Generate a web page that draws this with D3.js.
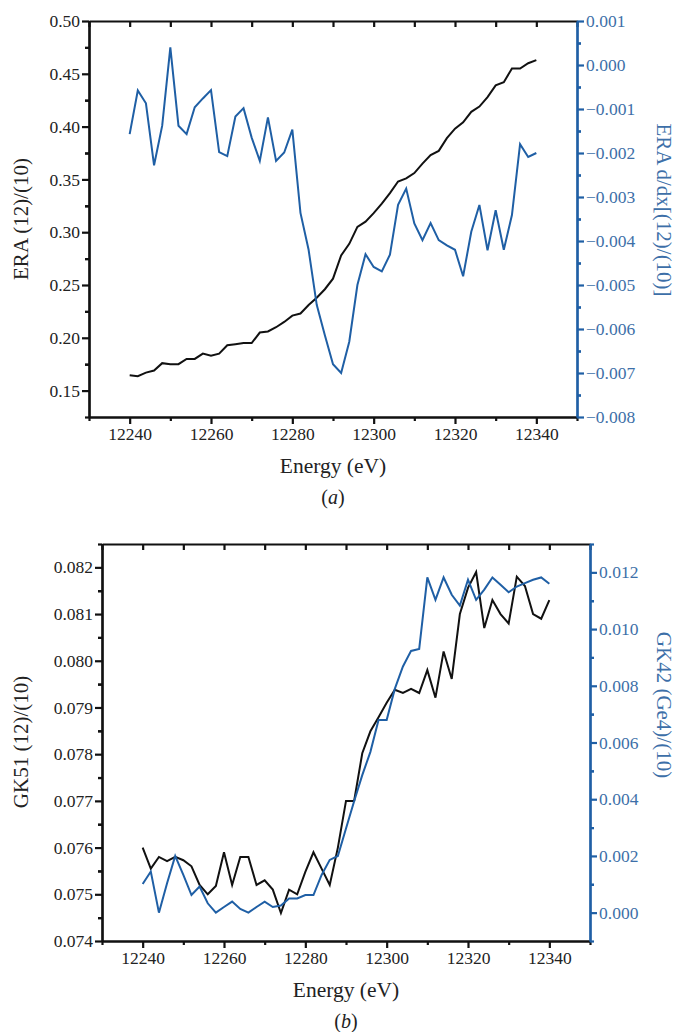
<!DOCTYPE html>
<html>
<head>
<meta charset="utf-8">
<script src="https://d3js.org/d3.v7.min.js"></script>
<style>
  body { margin: 0; background: #fff; }
  svg text { font-family: "Liberation Serif", "Times New Roman", Times, Tinos, "DejaVu Serif", "Noto Serif", serif !important; }
</style>
</head>
<body>
<svg width="681" height="1032"></svg>
<script>
// energies 12240..12340 step 2 eV
var energy = [12240,12242,12244,12246,12248,12250,12252,12254,12256,12258,
              12260,12262,12264,12266,12268,12270,12272,12274,12276,12278,
              12280,12282,12284,12286,12288,12290,12292,12294,12296,12298,
              12300,12302,12304,12306,12308,12310,12312,12314,12316,12318,
              12320,12322,12324,12326,12328,12330,12332,12334,12336,12338,12340];

// panel (a)
var eraRatio = [0.1646,0.1637,0.167,0.169,0.176,0.175,0.175,0.180,0.180,0.185,
                0.183,0.185,0.193,0.194,0.195,0.195,0.205,0.206,0.210,0.215,
                0.221,0.223,0.231,0.238,0.246,0.256,0.278,0.289,0.305,0.310,
                0.318,0.327,0.337,0.348,0.351,0.356,0.365,0.373,0.377,0.389,
                0.398,0.404,0.414,0.419,0.428,0.439,0.442,0.455,0.455,0.460,0.463];
var eraDeriv = [-0.00157,-0.00058,-0.00087,-0.00228,-0.00138,0.00040,-0.00138,-0.00157,-0.00096,-0.00076,
                -0.00057,-0.00198,-0.00207,-0.00117,-0.00098,-0.00165,-0.00218,-0.00119,-0.00218,-0.00199,
                -0.00147,-0.00336,-0.00420,-0.00545,-0.00614,-0.00680,-0.00700,-0.00629,-0.00500,-0.00430,
                -0.00459,-0.00469,-0.00431,-0.00318,-0.00281,-0.00360,-0.00398,-0.00359,-0.00398,-0.00410,
                -0.00420,-0.00480,-0.00379,-0.00318,-0.00421,-0.00330,-0.00420,-0.00341,-0.00180,-0.00209,-0.00200];

// panel (b)
var gk51 = [0.07600,0.07555,0.07580,0.07571,0.07580,0.07573,0.07560,0.07520,0.07500,0.07518,
            0.07590,0.07520,0.07580,0.07580,0.07520,0.07530,0.07510,0.07460,0.07510,0.07500,
            0.07548,0.07590,0.07555,0.07520,0.07600,0.07700,0.07700,0.07802,0.07849,0.07879,
            0.07910,0.07938,0.07931,0.07940,0.07931,0.07980,0.07921,0.08020,0.07961,0.08100,
            0.08156,0.08190,0.08070,0.08130,0.08100,0.08080,0.08180,0.08160,0.08100,0.08090,0.08130];
var gk42 = [0.00101,0.00145,0.00000,0.00104,0.00200,0.00133,0.00062,0.00092,0.00033,0.00000,
            0.00020,0.00039,0.00013,0.00000,0.00020,0.00039,0.00020,0.00025,0.00050,0.00050,
            0.00062,0.00062,0.00133,0.00186,0.00200,0.00297,0.00393,0.00485,0.00567,0.00679,
            0.00679,0.00789,0.00868,0.00923,0.00930,0.01182,0.01103,0.01182,0.01121,0.01083,
            0.01174,0.01103,0.01139,0.01182,0.01156,0.01130,0.01150,0.01162,0.01174,0.01182,0.01160];

var xMajor = [12240,12260,12280,12300,12320,12340];
var xMinor = [12230,12250,12270,12290,12310,12330,12350];
var xTop = [12230,12240,12250,12260,12270,12280,12290,12300,12310,12320,12330,12340,12350];

var aLeftTicks = [0.15,0.20,0.25,0.30,0.35,0.40,0.45,0.50];
var aRightTicks = [0.001,0,-0.001,-0.002,-0.003,-0.004,-0.005,-0.006,-0.007,-0.008];
var bLeftTicks = [0.074,0.075,0.076,0.077,0.078,0.079,0.080,0.081,0.082];
var bRightTicks = [0,0.002,0.004,0.006,0.008,0.010,0.012];

var blue = "#1f5fa5";
var blueText = "#3d6fa8";
var serif = "'Liberation Serif', 'Times New Roman', Times, Tinos, 'DejaVu Serif', 'Noto Serif', serif";

var svg = d3.select("svg");

function minorsOf(ticks, step) {
    var out = [];
    ticks.forEach(function(t) { out.push(t - step / 2); out.push(t + step / 2); });
    return out;
}

function panel(opt) {
    var g = svg.append("g");
    var x = d3.scaleLinear().domain([12230, 12350]).range([opt.left, opt.right]);
    var yL = d3.scaleLinear().domain(opt.leftDomain).range([opt.bottom, opt.top]);
    var yR = d3.scaleLinear().domain(opt.rightDomain).range([opt.bottom, opt.top]);

    // lines
    var lineL = d3.line().x(function(d, i) { return x(energy[i]); }).y(function(d) { return yL(d); });
    var lineR = d3.line().x(function(d, i) { return x(energy[i]); }).y(function(d) { return yR(d); });
    g.append("path").datum(opt.leftData).attr("d", lineL)
        .attr("fill", "none").attr("stroke", "#111").attr("stroke-width", 2);
    g.append("path").datum(opt.rightData).attr("d", lineR)
        .attr("fill", "none").attr("stroke", blue).attr("stroke-width", 2);

    // top frame with inward ticks
    var top = g.append("g").attr("transform", "translate(0," + opt.top + ")")
        .call(d3.axisTop(x).tickValues(xTop).tickSize(-6).tickSizeOuter(0).tickFormat(""));
    // bottom axis
    var bMin = g.append("g").attr("transform", "translate(0," + opt.bottom + ")")
        .call(d3.axisBottom(x).tickValues(xMinor).tickSize(4).tickSizeOuter(0).tickFormat(""));
    var bMaj = g.append("g").attr("transform", "translate(0," + opt.bottom + ")")
        .call(d3.axisBottom(x).tickValues(xMajor).tickSize(7).tickSizeOuter(0).tickFormat(d3.format("d")).tickPadding(4));
    // left axis
    var lMin = g.append("g").attr("transform", "translate(" + opt.left + ",0)")
        .call(d3.axisLeft(yL).tickValues(minorsOf(opt.leftTicks, opt.leftStep).filter(function(v) {
            return v >= opt.leftDomain[0] - 1e-9 && v <= opt.leftDomain[1] + 1e-9; }))
            .tickSize(4).tickSizeOuter(0).tickFormat(""));
    var lMaj = g.append("g").attr("transform", "translate(" + opt.left + ",0)")
        .call(d3.axisLeft(yL).tickValues(opt.leftTicks).tickSize(7).tickSizeOuter(0)
            .tickFormat(d3.format(opt.leftFormat)).tickPadding(2));
    // right axis
    var rMin = g.append("g").attr("transform", "translate(" + opt.right + ",0)")
        .call(d3.axisRight(yR).tickValues(minorsOf(opt.rightTicks, opt.rightStep).filter(function(v) {
            return v >= opt.rightDomain[0] - 1e-9 && v <= opt.rightDomain[1] + 1e-9; }))
            .tickSize(4).tickSizeOuter(0).tickFormat(""));
    var rMaj = g.append("g").attr("transform", "translate(" + opt.right + ",0)")
        .call(d3.axisRight(yR).tickValues(opt.rightTicks).tickSize(7).tickSizeOuter(0)
            .tickFormat(function(d) { return d3.format(".3f")(d).replace("-", "\u2212"); }).tickPadding(2));

    [top, bMin, bMaj, lMin, lMaj].forEach(function(a) {
        a.attr("font-family", serif);
        a.selectAll("path, line").attr("stroke", "#111").attr("stroke-width", 2.2);
        a.selectAll("text").attr("fill", "#222").attr("font-size", 17.5);
    });
    [rMin, rMaj].forEach(function(a) {
        a.attr("font-family", serif);
        a.selectAll("path, line").attr("stroke", blue).attr("stroke-width", 2.2);
        a.selectAll("text").attr("fill", blueText).attr("font-size", 17.5);
    });

    // titles
    g.append("text").attr("x", (opt.left + opt.right) / 2).attr("y", opt.bottom + 56)
        .attr("text-anchor", "middle").attr("font-size", 21.5).attr("fill", "#222")
        .text("Energy (eV)");
    var cap = g.append("text").attr("x", (opt.left + opt.right) / 2).attr("y", opt.bottom + 87)
        .attr("text-anchor", "middle").attr("font-size", 20).attr("fill", "#222");
    cap.append("tspan").text("(");
    cap.append("tspan").attr("font-style", "italic").text(opt.tag);
    cap.append("tspan").text(")");

    g.append("text").attr("transform", "translate(" + opt.leftTitleX + "," + opt.leftTitleY + ") rotate(-90)")
        .attr("text-anchor", "middle").attr("dy", "0.35em").attr("font-size", 21).attr("fill", "#222")
        .text(opt.leftTitle);
    g.append("text").attr("transform", "translate(664," + opt.rightTitleY + ") rotate(90)")
        .attr("text-anchor", "middle").attr("dy", "0.35em").attr("font-size", 21).attr("fill", blueText)
        .text(opt.rightTitle);
}

panel({
    left: 89, right: 577, top: 21, bottom: 417,
    leftDomain: [0.125, 0.5], rightDomain: [-0.008, 0.001],
    leftTicks: aLeftTicks, leftStep: 0.05, leftFormat: ".2f",
    rightTicks: aRightTicks, rightStep: 0.001,
    leftData: eraRatio, rightData: eraDeriv,
    leftTitle: "ERA (12)/(10)", rightTitle: "ERA d/dx[(12)/(10)]",
    leftTitleX: 21, leftTitleY: 219, rightTitleY: 210, tag: "a"
});

panel({
    left: 102, right: 590, top: 544, bottom: 941,
    leftDomain: [0.074, 0.0825], rightDomain: [-0.001, 0.013],
    leftTicks: bLeftTicks, leftStep: 0.001, leftFormat: ".3f",
    rightTicks: bRightTicks, rightStep: 0.002,
    leftData: gk51, rightData: gk42,
    leftTitle: "GK51 (12)/(10)", rightTitle: "GK42 (Ge4)/(10)",
    leftTitleX: 21, leftTitleY: 742, rightTitleY: 705, tag: "b"
});
</script>
</body>
</html>
